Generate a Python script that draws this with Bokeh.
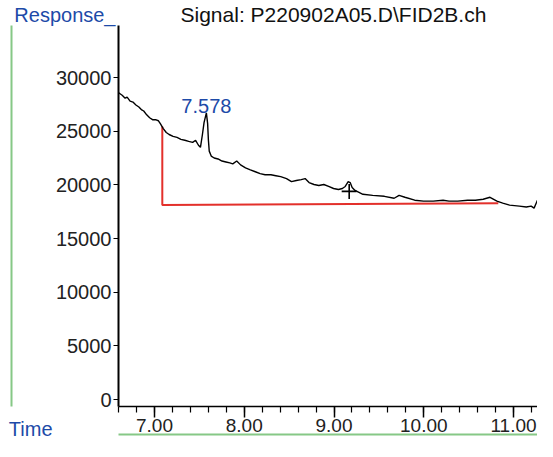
from bokeh.plotting import figure
from bokeh.models import (Range1d, SingleIntervalTicker, PrintfTickFormatter,
                          FixedTicker, LinearAxis, Label)
from bokeh.embed import file_html
from bokeh.resources import INLINE

# ---- data ----
time_min = [6.575, 6.608, 6.640, 6.673, 6.695, 6.728, 6.760, 6.793, 6.826, 6.858,
            6.880, 6.913, 6.946, 6.978, 7.011, 7.044, 7.065, 7.098, 7.131, 7.163,
            7.207, 7.251, 7.294, 7.338, 7.381, 7.425, 7.458, 7.490, 7.512, 7.534,
            7.552, 7.578, 7.592, 7.600, 7.610, 7.632, 7.665, 7.708, 7.752, 7.796,
            7.839, 7.872, 7.916, 7.959, 8.014, 8.068, 8.123, 8.177, 8.232, 8.297,
            8.352, 8.406, 8.471, 8.526, 8.580, 8.635, 8.678, 8.722, 8.777, 8.831,
            8.886, 8.940, 8.995, 9.049, 9.093, 9.125, 9.158, 9.180, 9.202, 9.234,
            9.322, 9.431, 9.561, 9.670, 9.725, 9.790, 9.899, 9.997, 10.106, 10.215,
            10.281, 10.379, 10.488, 10.575, 10.662, 10.738, 10.815, 10.880, 10.956, 11.065,
            11.142, 11.196, 11.229, 11.262, 11.305]
response = [28810, 28535, 28350, 28070, 28170, 27800, 27710, 27440, 27250, 26980,
            26880, 26520, 26250, 26070, 26070, 25970, 25700, 25240, 24880, 24690,
            24510, 24420, 24240, 24150, 24050, 23960, 24150, 23690, 23500, 24690,
            25790, 26700, 25700, 24240, 23140, 22680, 22500, 22410, 22220, 22130,
            22040, 21950, 22220, 21860, 21580, 21400, 21220, 21040, 20940, 20940,
            20850, 20760, 20580, 20300, 20400, 20490, 20580, 20210, 20030, 19940,
            20030, 19850, 19660, 19570, 19660, 19850, 20300, 20210, 19760, 19480,
            19120, 19020, 18930, 18750, 19020, 18840, 18570, 18480, 18480, 18570,
            18480, 18480, 18570, 18570, 18660, 18840, 18480, 18290, 18110, 18020,
            17930, 18020, 17830, 18480, 19210]

baseline_time = [7.087, 7.087, 10.830]
baseline_resp = [25430, 18110, 18290]

peak_time = 7.578
peak_resp = 26700
peak_label = "7.578"

mark_time = [9.169]
mark_resp = [19390]

title_text = "Signal: P220902A05.D\\FID2B.ch"
y_label = "Response_"
x_label = "Time"

# ---- layout ----
W, H = 537, 441
BL, BR, BT, BB = 118, 0, 25, 35
X0, X1 = 6.599, 11.267
Y0, Y1 = -652, 34845

FONT = "Liberation Sans"
BLUE = "#1d4aa8"
GREEN = "#86c886"

p = figure(width=W, height=H, output_backend="svg", toolbar_location=None,
           x_range=Range1d(X0, X1), y_range=Range1d(Y0, Y1),
           min_border_left=BL, min_border_right=BR, min_border_top=BT,
           min_border_bottom=BB)
p.outline_line_color = None
p.xgrid.visible = False
p.ygrid.visible = False
p.background_fill_color = "white"
p.border_fill_color = "white"

p.title.text = title_text
p.title.align = "left"
p.title.offset = 62
p.title.standoff = 0
p.title.text_font = FONT
p.title.text_font_size = "21px"
p.title.text_font_style = "normal"
p.title.text_color = "#111111"

xa = p.xaxis[0]
xa.ticker = SingleIntervalTicker(interval=1, num_minor_ticks=5)
xa.formatter = PrintfTickFormatter(format="%.2f")
xa.major_tick_out = 11
xa.major_tick_in = 0
xa.minor_tick_out = 6
xa.minor_tick_in = 0
xa.major_label_standoff = 1
xa.axis_line_width = 1.5
xa.major_tick_line_width = 1.5
xa.minor_tick_line_width = 1.2
xa.major_label_text_font = FONT
xa.major_label_text_font_size = "19px"
xa.major_label_text_color = "#222222"

ya = p.yaxis[0]
ya.ticker = SingleIntervalTicker(interval=5000, num_minor_ticks=0)
ya.formatter = PrintfTickFormatter(format="%d")
ya.major_tick_out = 5
ya.major_tick_in = 0
ya.minor_tick_line_color = None
ya.major_label_standoff = 2
ya.axis_line_width = 2
ya.major_tick_line_width = 1.2
ya.major_label_text_font = FONT
ya.major_label_text_font_size = "20px"
ya.major_label_text_color = "#222222"
ya.axis_label = y_label + "\n"
ya.axis_label_orientation = "horizontal"
ya.axis_label_align = "end"
ya.axis_label_standoff_mode = "axis"
ya.axis_label_standoff = 3
ya.axis_label_text_font = FONT
ya.axis_label_text_font_size = "20px"
ya.axis_label_text_font_style = "normal"
ya.axis_label_text_color = BLUE
ya.axis_label_text_line_height = 1.0

# outer left axis: carries the "Time" label; its line is the green page edge
t_axis = LinearAxis(ticker=FixedTicker(ticks=[]), axis_label="\n\n" + x_label)
t_axis.axis_line_color = GREEN
t_axis.axis_line_width = 2
t_axis.major_tick_line_color = None
t_axis.minor_tick_line_color = None
t_axis.major_label_text_font_size = "0px"
t_axis.axis_label_orientation = "horizontal"
t_axis.axis_label_align = "start"
t_axis.axis_label_standoff_mode = "axis"
t_axis.axis_label_standoff = -41
t_axis.axis_label_text_font = FONT
t_axis.axis_label_text_font_size = "20px"
t_axis.axis_label_text_font_style = "normal"
t_axis.axis_label_text_color = BLUE
t_axis.axis_label_text_line_height = 1.0
p.add_layout(t_axis, "left")

# outer bottom axis: only its line, as the green page edge
edge_axis = LinearAxis(ticker=FixedTicker(ticks=[]))
edge_axis.axis_line_color = GREEN
edge_axis.axis_line_width = 2
edge_axis.major_tick_line_color = None
edge_axis.minor_tick_line_color = None
edge_axis.major_label_text_font_size = "0px"
p.add_layout(edge_axis, "below")

# baseline + trace
p.line(baseline_time, baseline_resp, line_color="#e3302b", line_width=2)
p.line(time_min, response, line_color="black", line_width=1.4)
p.scatter(mark_time, mark_resp, marker="cross", size=15, line_color="black", line_width=1.6)

p.add_layout(Label(x=peak_time, y=peak_resp, y_offset=7, text=peak_label,
                   text_align="center", text_baseline="alphabetic",
                   text_font=FONT, text_font_size="20px", text_color=BLUE))

open("out.html", "w").write(file_html(p, INLINE))
